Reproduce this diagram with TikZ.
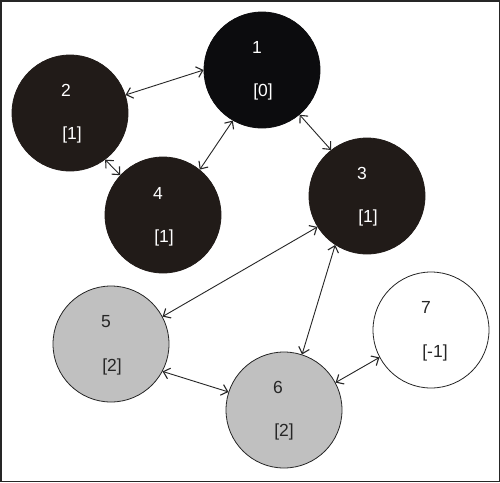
\documentclass[tikz,border=0pt]{standalone}
\usepackage{fontspec}
\setmainfont{Liberation Sans}
\usetikzlibrary{arrows.meta}
\definecolor{blk}{HTML}{0C0C0E}
\definecolor{brn}{HTML}{211B18}
\definecolor{gry}{HTML}{C0C0C0}
\definecolor{ink}{HTML}{262626}
\begin{document}
\begin{tikzpicture}[x=1pt,y=-1pt,
  vtx/.style={circle,minimum size=116pt,inner sep=0pt,draw=ink,line width=0.8pt},
  dark/.style={vtx,fill=brn,draw=brn},
  darkest/.style={vtx,fill=blk,draw=blk},
  grey/.style={vtx,fill=gry},
  white/.style={vtx,fill=white},
  lab/.style={font=\fontsize{17.5}{20}\selectfont,inner sep=0pt},
  lw/.style={lab,text=white},
  lk/.style={lab,text=ink},
  link/.style={{Straight Barb[length=6pt,width=11pt,line width=1.1pt]}-{Straight Barb[length=6pt,width=11pt,line width=1.1pt]},line width=0.9pt,draw=ink}
]
\draw[line width=1.5pt,draw=ink,fill=white] (0.75,0.75) rectangle (499.25,481.25);
\useasboundingbox (0,0) rectangle (500,482);

\node[darkest] (n1) at (262,70) {};
\node[dark] (n2) at (70,113) {};
\node[dark] (n4) at (163,215) {};
\node[dark] (n3) at (367,196) {};
\node[grey] (n5) at (111,344) {};
\node[grey] (n6) at (284,410) {};
\node[white] (n7) at (431,330) {};

\node[lw] (t1) at (257,47) {1};
\node[lw] (b1) at (263,92) {[0]};
\node[lw] (t2) at (66,90) {2};
\node[lw] (b2) at (72,135) {[1]};
\node[lw] (t4) at (158,193) {4};
\node[lw] (b4) at (164,238) {[1]};
\node[lw] (t3) at (362,173) {3};
\node[lw] (b3) at (368,218) {[1]};
\node[lk] (t5) at (106,322) {5};
\node[lk] (b5) at (112,367) {[2]};
\node[lk] (t6) at (278,387) {6};
\node[lk] (b6) at (284,432) {[2]};
\node[lk] (t7) at (426,307) {7};
\node[lk] (b7) at (435,353) {[-1]};

\draw[link] (n2.18) -- (n1.180);
\draw[link] (n1.240) -- (n4.51);
\draw[link] (n1.-50) -- (n3.128);
\draw[link] (n2.-53) -- (n4.137);
\draw[link] (n3.212) -- (n5.28);
\draw[link] (n3.237) -- (n6.72);
\draw[link] (n5.-28) -- (n6.162);
\draw[link] (n6.28) -- (n7.208);
\end{tikzpicture}
\end{document}
